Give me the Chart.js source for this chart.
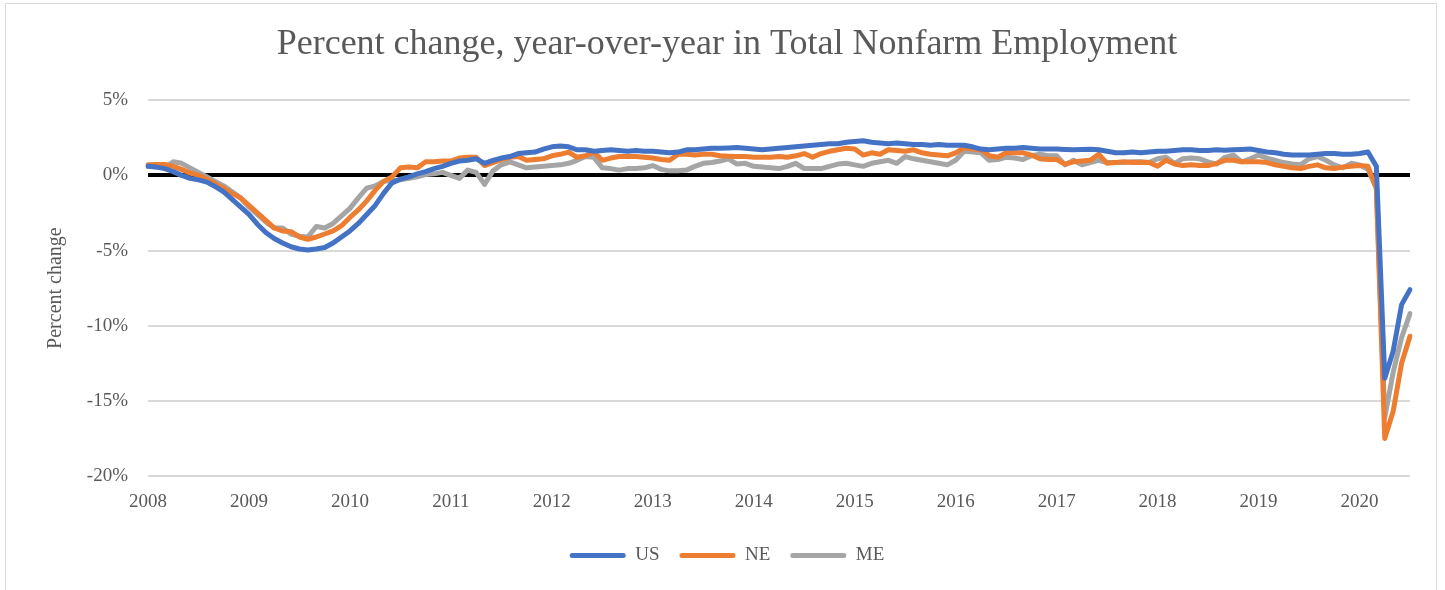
<!DOCTYPE html>
<html lang="en">
<head>
    <meta charset="UTF-8">
    <title>Percent change, year-over-year in Total Nonfarm Employment</title>
    <script src="https://cdn.jsdelivr.net/npm/chart.js@4.4.1/dist/chart.umd.min.js"></script>
    <style>
        body {
            margin: 0;
            background-color: #ffffff;
        }
        #frame {
            position: absolute;
            left: 5px;
            top: 3px;
            width: 1430px;
            height: 600px;
            border: 1px solid #d9d9d9;
        }
        #chartBox {
            position: absolute;
            left: 0;
            top: 0;
            width: 1430px;
            height: 586px;
        }
    </style>
</head>
<body>
<div id="frame">
    <div id="chartBox">
        <canvas id="employmentChart"></canvas>
    </div>
</div>

<script>
    // monthly, Jan 2008 .. Jul 2020
    var startYear = 2008;
    var monthCount = 151;

    var usValues = [
        0.6, 0.55, 0.45, 0.25, 0.0, -0.2, -0.3, -0.45, -0.75, -1.1, -1.6, -2.1,
        -2.6, -3.25, -3.8, -4.2, -4.5, -4.75, -4.9, -4.97, -4.9, -4.8, -4.5, -4.1,
        -3.7, -3.2, -2.6, -2.0, -1.2, -0.5, -0.25, -0.1, 0.1, 0.25, 0.45, 0.6,
        0.8, 0.95, 1.0, 1.1, 0.8, 1.0, 1.15, 1.25, 1.45, 1.5, 1.55, 1.75,
        1.9, 1.95, 1.9, 1.7, 1.7, 1.6, 1.65, 1.7, 1.65, 1.6, 1.65, 1.6,
        1.6, 1.55, 1.5, 1.55, 1.7, 1.7, 1.75, 1.8, 1.8, 1.82, 1.85, 1.8,
        1.75, 1.7, 1.75, 1.8, 1.85, 1.9, 1.95, 2.0, 2.05, 2.1, 2.1, 2.2,
        2.25, 2.3, 2.2, 2.15, 2.1, 2.15, 2.1, 2.05, 2.05, 2.0, 2.05, 2.0,
        2.0, 2.0, 1.9, 1.75, 1.7, 1.75, 1.8, 1.8, 1.85, 1.8, 1.75, 1.75,
        1.75, 1.72, 1.7, 1.72, 1.73, 1.7, 1.6, 1.5, 1.5, 1.55, 1.5, 1.55,
        1.6, 1.6, 1.65, 1.7, 1.7, 1.65, 1.65, 1.7, 1.67, 1.7, 1.72, 1.75,
        1.65, 1.55, 1.5, 1.4, 1.35, 1.35, 1.35, 1.4, 1.45, 1.45, 1.4, 1.4,
        1.45, 1.55, 0.6, -13.5, -11.7, -8.6, -7.6
    ];

    var neValues = [
        0.7, 0.72, 0.72, 0.6, 0.4, 0.15, 0.0, -0.25, -0.55, -0.85, -1.2, -1.5,
        -2.0, -2.5, -3.0, -3.5, -3.7, -3.75, -4.1, -4.25, -4.1, -3.9, -3.7, -3.35,
        -2.8, -2.3, -1.7, -1.0, -0.4, -0.1, 0.5, 0.55, 0.5, 0.9, 0.9, 0.95,
        0.95, 1.15, 1.2, 1.2, 0.65, 0.85, 1.05, 1.2, 1.25, 1.0, 1.05, 1.1,
        1.3, 1.4, 1.55, 1.2, 1.3, 1.55, 1.0, 1.15, 1.25, 1.25, 1.25, 1.2,
        1.15, 1.05, 1.0, 1.4, 1.4, 1.35, 1.4, 1.4, 1.3, 1.27, 1.25, 1.25,
        1.2, 1.2, 1.2, 1.25, 1.2, 1.3, 1.45, 1.2, 1.45, 1.6, 1.7, 1.8,
        1.75, 1.35, 1.5, 1.4, 1.7, 1.65, 1.6, 1.7, 1.5, 1.4, 1.35, 1.3,
        1.5, 1.83, 1.75, 1.7, 1.3, 1.2, 1.5, 1.5, 1.5, 1.35, 1.1, 1.05,
        1.05, 0.75, 0.9, 0.95, 1.0, 1.4, 0.8, 0.85, 0.9, 0.85, 0.87, 0.85,
        0.6, 1.0, 0.75, 0.65, 0.7, 0.65, 0.65, 0.8, 1.0, 1.0, 0.9, 0.9,
        0.9, 0.85, 0.7, 0.6, 0.5, 0.45, 0.6, 0.7, 0.5, 0.45, 0.55, 0.6,
        0.65, 0.6, -0.85, -17.5, -15.7, -12.5, -10.7
    ];

    var meValues = [
        0.6, 0.55, 0.5, 0.9, 0.8, 0.5, 0.2, -0.1, -0.4, -0.7, -1.1, -1.5,
        -2.1, -2.6, -3.1, -3.5, -3.5, -3.9, -4.05, -4.1, -3.4, -3.5, -3.2, -2.7,
        -2.2, -1.5, -0.85, -0.7, -0.4, -0.35, -0.3, -0.2, -0.1, 0.05, 0.1, 0.2,
        0.0, -0.2, 0.35, 0.2, -0.6, 0.3, 0.7, 0.9, 0.7, 0.5, 0.55, 0.6,
        0.65, 0.7, 0.8, 1.0, 1.25, 1.2, 0.5, 0.45, 0.35, 0.45, 0.45, 0.5,
        0.65, 0.4, 0.3, 0.3, 0.35, 0.6, 0.8, 0.85, 0.95, 1.1, 0.75, 0.8,
        0.6, 0.55, 0.5, 0.45, 0.6, 0.8, 0.45, 0.45, 0.45, 0.6, 0.75, 0.8,
        0.7, 0.6, 0.8, 0.9, 1.0, 0.8, 1.25, 1.1, 1.0, 0.9, 0.8, 0.7,
        1.0, 1.6, 1.55, 1.5, 1.0, 1.05, 1.2, 1.15, 1.05, 1.3, 1.4, 1.3,
        1.3, 0.7, 1.0, 0.7, 0.85, 1.0, 0.85, 0.85, 0.85, 0.9, 0.9, 0.85,
        1.1, 1.2, 0.8, 1.1, 1.15, 1.1, 0.9, 0.75, 1.2, 1.35, 0.9, 1.1,
        1.35, 1.15, 1.0, 0.85, 0.75, 0.7, 1.1, 1.25, 1.0, 0.7, 0.5, 0.8,
        0.7, 0.4, -0.85, -16.1, -13.1, -10.8, -9.2
    ];

    var yTicks = [5, 0, -5, -10, -15, -20];

    var labels = [];
    for (var i = 0; i < monthCount; i++) {
        labels.push((startYear + Math.floor(i / 12)) + '-' + String(i % 12 + 1).padStart(2, '0'));
    }

    var textColor = '#595959';
    var serif = "'Liberation Serif', 'DejaVu Serif', serif";

    var ctx = document.getElementById('employmentChart').getContext('2d');
    new Chart(ctx, {
        type: 'line',
        data: {
            labels: labels,
            datasets: [
                { label: 'US', data: usValues, borderColor: '#4472C4', backgroundColor: '#4472C4' },
                { label: 'NE', data: neValues, borderColor: '#ED7D31', backgroundColor: '#ED7D31' },
                { label: 'ME', data: meValues, borderColor: '#A5A5A5', backgroundColor: '#A5A5A5' }
            ]
        },
        options: {
            responsive: true,
            maintainAspectRatio: false,
            animation: false,
            elements: {
                line: { borderWidth: 5, tension: 0, borderJoinStyle: 'round', borderCapStyle: 'round' },
                point: { radius: 0, hoverRadius: 0 }
            },
            layout: {
                padding: { left: 38, right: 26, top: 0, bottom: 15 }
            },
            plugins: {
                title: {
                    display: true,
                    text: 'Percent change, year-over-year in Total Nonfarm Employment',
                    color: textColor,
                    font: { family: serif, size: 36, weight: 'normal' },
                    padding: { top: 19, bottom: 34 }
                },
                legend: {
                    position: 'bottom',
                    labels: {
                        color: textColor,
                        font: { family: serif, size: 19 },
                        boxWidth: 56,
                        boxHeight: 5,
                        padding: 20,
                        useBorderRadius: true,
                        borderRadius: 2.5,
                        generateLabels: function(chart) {
                            return Chart.defaults.plugins.legend.labels.generateLabels(chart).map(function(item) {
                                item.lineWidth = 0;
                                return item;
                            });
                        }
                    }
                },
                tooltip: { enabled: false }
            },
            scales: {
                x: {
                    offset: false,
                    grid: { display: false },
                    border: { display: false },
                    afterFit: function(scale) { scale.height = 50; },
                    ticks: {
                        autoSkip: false,
                        maxRotation: 0,
                        padding: 7,
                        color: textColor,
                        font: { family: serif, size: 19 },
                        callback: function(value, index) {
                            return index % 12 === 0 ? labels[index].slice(0, 4) : null;
                        }
                    }
                },
                y: {
                    min: -20,
                    max: 5,
                    afterFit: function(scale) { scale.width = 104; },
                    afterBuildTicks: function(scale) {
                        scale.ticks = yTicks.map(function(v) { return { value: v }; });
                    },
                    border: { display: false },
                    grid: {
                        drawTicks: false,
                        color: function(c) { return c.tick && c.tick.value === 0 ? '#000000' : '#d9d9d9'; },
                        lineWidth: function(c) { return c.tick && c.tick.value === 0 ? 4 : 2; }
                    },
                    ticks: {
                        padding: 20,
                        color: textColor,
                        font: { family: serif, size: 19 },
                        callback: function(value) { return value + '%'; }
                    },
                    title: {
                        display: true,
                        text: 'Percent change',
                        color: textColor,
                        font: { family: serif, size: 20 },
                        padding: { top: 0, bottom: 4 }
                    }
                }
            }
        }
    });
</script>
</body>
</html>
